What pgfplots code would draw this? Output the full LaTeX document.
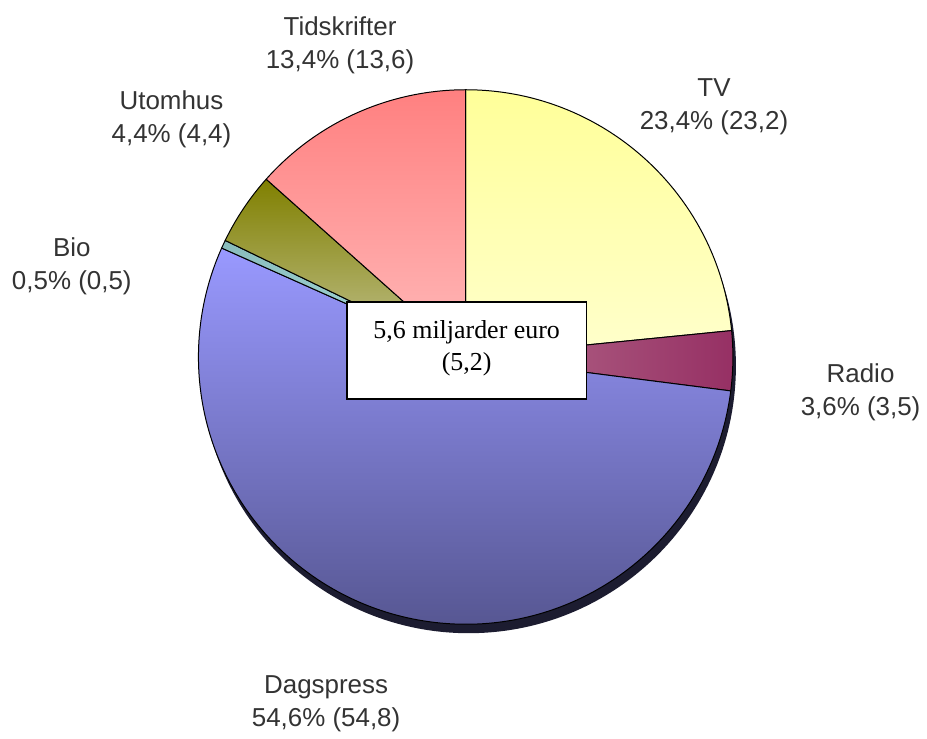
\documentclass[border=0pt]{standalone}
\usepackage{pgfplots}
\usepackage{pgfplotstable}
\pgfplotsset{compat=1.18}
\usepackage{fontspec}
\setmainfont{Liberation Serif}
\newfontfamily\arialfont{Liberation Sans}
\definecolor{labgray}{HTML}{333333}
\definecolor{shadowc}{HTML}{1C1C30}
\tikzset{
  w0/.style={top color={rgb,255:red,255;green,255;blue,153}, bottom color={rgb,255:red,255;green,255;blue,204}},
  w1/.style={left color={rgb,255:red,180;green,108;blue,140}, right color={rgb,255:red,150;green,48;blue,100}},
  w2/.style={top color={rgb,255:red,153;green,153;blue,255}, bottom color={rgb,255:red,84;green,84;blue,142}},
  w3/.style={top color={rgb,255:red,136;green,187;blue,187}, bottom color={rgb,255:red,170;green,222;blue,222}},
  w4/.style={top color={rgb,255:red,128;green,128;blue,0}, bottom color={rgb,255:red,196;green,196;blue,150}},
  w5/.style={top color={rgb,255:red,255;green,128;blue,128}, bottom color={rgb,255:red,255;green,186;blue,186}},
}
\pgfplotstableread{
label pct prev
TV 23.4 23.2
Radio 3.6 3.5
Dagspress 54.6 54.8
Bio 0.5 0.5
Utomhus 4.4 4.4
Tidskrifter 13.4 13.6
}\piedata
\begin{document}
\begin{tikzpicture}
\begin{axis}[
  width=463.5pt, height=366.5pt, scale only axis,
  xmin=0, xmax=927, ymin=0, ymax=733,
  hide axis, clip=false,
]
\path (axis cs:0,0) rectangle (axis cs:927,733);
% shadow
\fill[shadowc] (axis cs:470,366) circle[radius=134pt];
\gdef\cum{0}
\pgfplotsinvokeforeach{0,...,5}{
  \pgfplotstablegetelem{#1}{pct}\of\piedata
  \pgfmathsetmacro\angA{90-(\cum/99.9)*360}
  \pgfmathsetmacro\cumnew{\cum+\pgfplotsretval}
  \pgfmathsetmacro\angB{90-(\cumnew/99.9)*360}
  \global\let\cum\cumnew
  \edef\temp{\noexpand\path[w#1, draw=black, line width=0.5pt, line join=round] (axis cs:467,375) -- ++(\angA:134pt) arc[start angle=\angA, end angle=\angB, radius=134pt] -- cycle;}
  \temp
}
% labels
\tikzset{lab/.style={align=center, text=labgray, font=\arialfont\fontsize{13}{16.5}\selectfont}}
\node[lab] at (axis cs:341,688) {Tidskrifter\\13,4\% (13,6)};
\node[lab] at (axis cs:716,626) {TV\\23,4\% (23,2)};
\node[lab] at (axis cs:172,613) {Utomhus\\4,4\% (4,4)};
\node[lab] at (axis cs:72,465.5) {Bio\\0,5\% (0,5)};
\node[lab] at (axis cs:863,340) {Radio\\3,6\% (3,5)};
\node[lab] at (axis cs:327,27) {Dagspress\\54,6\% (54,8)};
% center box
\draw[fill=white, draw=black, line width=0.8pt] (axis cs:348,333) rectangle (axis cs:588,430);
\node[align=center, font=\fontsize{13}{16}\selectfont] at (axis cs:468,384) {5,6 miljarder euro\\(5,2)};
\end{axis}
\end{tikzpicture}
\end{document}
